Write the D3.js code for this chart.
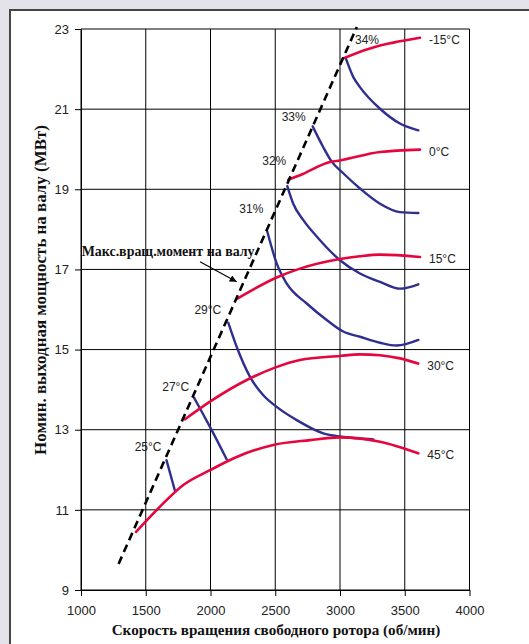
<!DOCTYPE html>
<html>
<head>
<meta charset="utf-8">
<script src="https://cdn.jsdelivr.net/npm/d3@7"></script>
<style>
  html, body { margin: 0; padding: 0; background: #e4e3ea; }
  svg { display: block; }
</style>
</head>
<body>
<script>
// Axis ticks
const xTicks = [1000, 1500, 2000, 2500, 3000, 3500, 4000];
const yTicks = [9, 11, 13, 15, 17, 19, 21, 23];

// Maximum shaft torque line: [rpm, MW]
const maxTorque = [[1290, 9.65], [3130, 23.05]];

// Constant ambient-temperature curves: [rpm, MW]
const tempLabels = ["-15°C", "0°C", "15°C", "30°C", "45°C"];
const redM15 = [[3020, 22.26], [3206, 22.49], [3309, 22.59], [3412, 22.66], [3618, 22.78]];
const red0 = [[2601, 19.24], [2691, 19.35], [2923, 19.68], [3000, 19.72], [3309, 19.93], [3618, 19.99]];
const red15 = [[2207, 16.27], [2511, 16.80], [2691, 17.02], [3000, 17.26], [3154, 17.33], [3309, 17.37], [3618, 17.31]];
const red30 = [[1803, 13.26], [1996, 13.70], [2280, 14.24], [2498, 14.55], [2691, 14.74], [3000, 14.84], [3154, 14.88], [3309, 14.86], [3463, 14.78], [3604, 14.65]];
const red45 = [[1425, 10.45], [1610, 11.08], [1790, 11.62], [1996, 11.99], [2202, 12.32], [2485, 12.62], [2768, 12.74], [3000, 12.81], [3309, 12.70], [3605, 12.41]];

// Efficiency / inlet-temperature curves starting on the max torque line: [rpm, MW]
const blueLabels = ["34%", "33%", "32%", "31%", "29°C", "27°C", "25°C"];
const blue34 = [[3046, 22.26], [3103, 21.80], [3154, 21.55], [3309, 21.01], [3463, 20.64], [3605, 20.47]];
const blue33 = [[2789, 20.57], [2871, 20.05], [2936, 19.69], [3025, 19.40], [3154, 19.02], [3309, 18.64], [3463, 18.43], [3605, 18.41]];
const blue32 = [[2593, 19.08], [2639, 18.64], [2717, 18.23], [2832, 17.78], [3000, 17.23], [3154, 16.90], [3309, 16.69], [3463, 16.52], [3605, 16.63]];
const blue31 = [[2439, 17.94], [2511, 17.15], [2588, 16.65], [2743, 16.15], [2897, 15.74], [3025, 15.45], [3154, 15.32], [3309, 15.17], [3438, 15.10], [3605, 15.24]];
const blue29 = [[2137, 15.67], [2202, 15.07], [2305, 14.32], [2408, 13.86], [2511, 13.57], [2666, 13.24], [2871, 12.91], [3000, 12.83], [3154, 12.78], [3257, 12.76]];
const blue27 = [[1873, 13.80], [1919, 13.53], [1996, 13.07], [2125, 12.26]];
const blue25 = [[1660, 12.24], [1726, 11.47]];

// Annotation for the max torque line
const torqueNote = "Макс.вращ.момент на валу";
const torqueNoteAt = [1005, 17.45];
const arrowFrom = [1919, 17.19];
const arrowTo = [2202, 16.69];

const xTitle = "Скорость вращения свободного ротора (об/мин)";
const yTitle = "Номин. выходная мощность на валу (МВт)";

// ---- layout ----
const W = 529, H = 644;
const RED = "#e5063d", BLUE = "#2f2f8f";
const SANS = "Liberation Sans, Arial, Helvetica, sans-serif";
const SERIF = "Liberation Serif, 'Times New Roman', Times, serif";

const svg = d3.select("body").append("svg").attr("width", W).attr("height", H);

// Framed white panel
svg.append("rect").attr("x", 10).attr("y", 10).attr("width", W + 20).attr("height", H + 20)
  .attr("fill", "#fff").attr("stroke", "#454545").attr("stroke-width", 2);

const x = d3.scaleLinear().domain([1000, 4000]).range([81, 469.5]);
const y = d3.scaleLinear().domain([9, 23]).range([590, 29]);

// Grid
const grid = svg.append("g");
grid.selectAll("line.v").data(xTicks).join("line")
  .attr("x1", d => x(d)).attr("x2", d => x(d)).attr("y1", y(9)).attr("y2", y(23))
  .attr("stroke", "#000").attr("stroke-width", 1);
grid.selectAll("line.h").data(yTicks).join("line")
  .attr("x1", x(1000)).attr("x2", x(4000)).attr("y1", d => y(d)).attr("y2", d => y(d))
  .attr("stroke", "#000").attr("stroke-width", 1);

// Axes
const xAxis = svg.append("g").attr("transform", `translate(0,${y(9)})`)
  .call(d3.axisBottom(x).tickValues(xTicks).tickFormat(d3.format("d")).tickSize(6).tickSizeOuter(0).tickPadding(10));
const yAxis = svg.append("g").attr("transform", `translate(${x(1000)},0)`)
  .call(d3.axisLeft(y).tickValues(yTicks).tickFormat(d3.format("d")).tickSize(6).tickSizeOuter(0).tickPadding(6));
[xAxis, yAxis].forEach(g => {
  g.select(".domain").attr("stroke", "#000");
  g.selectAll(".tick line").attr("stroke", "#000");
  g.selectAll(".tick text").attr("font-family", SANS).attr("font-size", 13).attr("fill", "#222");
});

// Curves
const line = d3.line().x(d => x(d[0])).y(d => y(d[1])).curve(d3.curveMonotoneX);
const reds = [redM15, red0, red15, red30, red45];
const blues = [blue34, blue33, blue32, blue31, blue29, blue27, blue25];

svg.append("g").selectAll("path").data(blues).join("path")
  .attr("d", line).attr("fill", "none").attr("stroke", BLUE)
  .attr("stroke-width", 2.4).attr("stroke-linecap", "round");
svg.append("g").selectAll("path").data(reds).join("path")
  .attr("d", line).attr("fill", "none").attr("stroke", RED)
  .attr("stroke-width", 2.6).attr("stroke-linecap", "round");

svg.append("path").attr("d", d3.line().x(d => x(d[0])).y(d => y(d[1]))(maxTorque))
  .attr("fill", "none").attr("stroke", "#000").attr("stroke-width", 2.6)
  .attr("stroke-dasharray", "8,5");

// Temperature labels at the right end of each red curve
svg.append("g").selectAll("text").data(reds).join("text")
  .attr("x", d => x(d[d.length - 1][0]) + 9)
  .attr("y", d => y(d[d.length - 1][1]) + 2)
  .attr("dominant-baseline", "central")
  .attr("font-family", SANS).attr("font-size", 12).attr("fill", "#222")
  .text((d, i) => tempLabels[i]);

// Labels at the start of each blue curve: [anchor, dx, dy]
const blueLabelPlace = [["start", 9, -19], ["end", -7, -9], ["end", -1, -25], ["end", -4, -23],
                        ["end", -7, -13], ["end", -5, -11], ["end", -5, -13]];
svg.append("g").selectAll("text").data(blues).join("text")
  .attr("x", (d, i) => x(d[0][0]) + blueLabelPlace[i][1])
  .attr("y", (d, i) => y(d[0][1]) + blueLabelPlace[i][2])
  .attr("text-anchor", (d, i) => blueLabelPlace[i][0])
  .attr("dominant-baseline", "central")
  .attr("font-family", SANS).attr("font-size", 12).attr("fill", "#222")
  .text((d, i) => blueLabels[i]);

// Arrow annotation
svg.append("defs").append("marker").attr("id", "arrowhead")
  .attr("viewBox", "0 0 10 10").attr("refX", 10).attr("refY", 5)
  .attr("markerWidth", 9).attr("markerHeight", 7).attr("markerUnits", "userSpaceOnUse")
  .attr("orient", "auto")
  .append("path").attr("d", "M0,0L10,5L0,10Z").attr("fill", "#000");
svg.append("line")
  .attr("x1", x(arrowFrom[0])).attr("y1", y(arrowFrom[1]))
  .attr("x2", x(arrowTo[0])).attr("y2", y(arrowTo[1]))
  .attr("stroke", "#000").attr("stroke-width", 1.1).attr("marker-end", "url(#arrowhead)");

// Fit a bold serif label to a given width
function fitWidth(sel, width) {
  sel.attr("font-size", 10);
  const w = sel.node().getComputedTextLength();
  sel.attr("font-size", 10 * width / w);
  return sel;
}

const note = svg.append("text")
  .attr("x", x(torqueNoteAt[0])).attr("y", y(torqueNoteAt[1]))
  .attr("dominant-baseline", "central")
  .attr("font-family", SERIF).attr("font-weight", "bold").attr("fill", "#111")
  .text(torqueNote);
fitWidth(note, 173);

const xt = svg.append("text")
  .attr("x", 276).attr("y", 629).attr("text-anchor", "middle")
  .attr("dominant-baseline", "central")
  .attr("font-family", SERIF).attr("font-weight", "bold").attr("fill", "#111")
  .text(xTitle);
fitWidth(xt, 329);

const yt = svg.append("text")
  .attr("transform", "translate(40,290) rotate(-90)").attr("text-anchor", "middle")
  .attr("dominant-baseline", "central")
  .attr("font-family", SERIF).attr("font-weight", "bold").attr("fill", "#111")
  .text(yTitle);
fitWidth(yt, 330);
</script>
</body>
</html>
